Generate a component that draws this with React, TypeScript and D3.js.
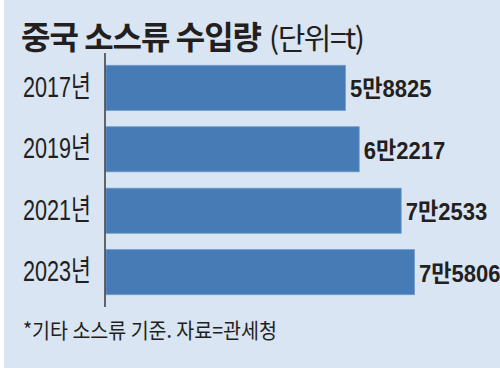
import * as React from 'react';
import * as d3 from 'd3';

// 중국 소스류 수입량 (단위=t)
const years = ['2017년', '2019년', '2021년', '2023년'];
const imports = [58825, 62217, 72533, 75806];
const valueLabels = ['5만8825', '6만2217', '7만2533', '7만5806'];

const W = 500;
const H = 368;
const BG = '#d9e5f2';
const BAR = '#467bb6';
const INK = '#231f20';
const KR = '"Noto Sans CJK KR", sans-serif';

export default function App() {
    const y = d3.scaleBand<string>()
        .domain(years)
        .range([53, 307])
        .paddingInner(0.266)
        .paddingOuter(0.2);
    const x = d3.scaleLinear()
        .domain([0, d3.max(imports) as number])
        .range([106, 414.5]);

    return (
        <svg width={W} height={H} viewBox={`0 0 ${W} ${H}`}
             style={{position: 'absolute', left: 0, top: 0, display: 'block'}}>
            <rect x={0} y={0} width={W} height={H} fill="#ffffff"/>
            <rect x={4} y={0} width={W - 4} height={H} fill={BG}/>

            <text x={21} y={49} fill={INK} fontFamily={KR} fontSize={32}>
                <tspan fontWeight={700} letterSpacing={-1}>중국 소스류 수입량</tspan>
                <tspan fontWeight={400} fontSize={30} dx={8} letterSpacing={-1.5}>(단위=t)</tspan>
            </text>

            {years.map((yr, i) => {
                const y0 = y(yr) as number;
                const cy = y0 + y.bandwidth() / 2;
                return (
                    <g key={yr}>
                        <rect x={x(0)} y={y0} width={x(imports[i]) - x(0)} height={y.bandwidth()}
                              fill={BAR} stroke="#6f9ccf" strokeWidth={0.8}/>
                        <text x={91} y={cy + 9} textAnchor="end" fill={INK}
                              fontFamily={'"Liberation Sans", "Noto Sans CJK KR", sans-serif'}
                              fontSize={29} textLength={68} lengthAdjust="spacingAndGlyphs">{yr}</text>
                        <text x={x(imports[i]) + 4.5} y={cy + 9.5} fill={INK}
                              fontFamily={'"Liberation Sans", "Noto Sans CJK KR", sans-serif'}
                              fontWeight={700} fontSize={24} textLength={81.5}
                              lengthAdjust="spacingAndGlyphs">{valueLabels[i]}</text>
                    </g>
                );
            })}

            <line x1={105} x2={105} y1={53} y2={307} stroke={INK} strokeWidth={1.3}/>

            <text x={23} y={338} fill={INK} fontFamily={KR} fontSize={21}
                  textLength={254} lengthAdjust="spacingAndGlyphs">*기타 소스류 기준. 자료=관세청</text>
        </svg>
    );
}
